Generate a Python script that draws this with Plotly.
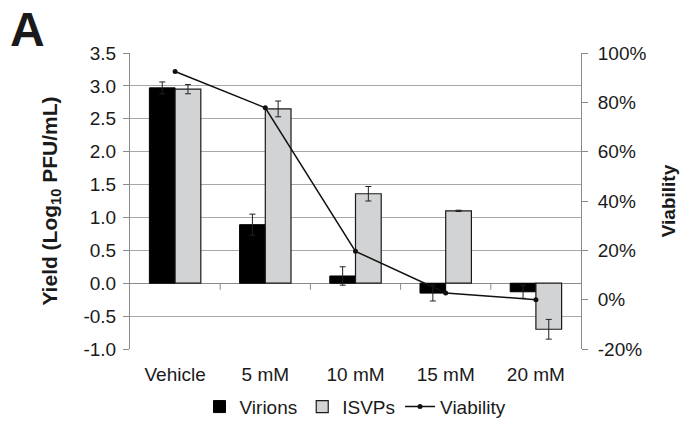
import plotly.graph_objects as go

# Treatment groups and measured yields (log10 PFU/mL) with standard deviations
categories = ["Vehicle", "5 mM", "10 mM", "15 mM", "20 mM"]
virions = [2.97, 0.89, 0.11, -0.15, -0.13]
virions_err = [0.09, 0.16, 0.14, 0.12, 0.10]
isvps = [2.95, 2.65, 1.36, 1.10, -0.70]
isvps_err = [0.07, 0.12, 0.11, 0.01, 0.15]
# Cell viability (%)
viability = [92.5, 77.8, 19.6, 2.7, 0.0]

# Axis tick values and their labels
yield_ticks = [-1.0, -0.5, 0.0, 0.5, 1.0, 1.5, 2.0, 2.5, 3.0, 3.5]
yield_labels = ["-1.0", "-0.5", "0.0", "0.5", "1.0", "1.5", "2.0", "2.5", "3.0", "3.5"]
viab_ticks = [-20, 0, 20, 40, 60, 80, 100]
viab_labels = ["-20%", "0%", "20%", "40%", "60%", "80%", "100%"]

FONT = "Liberation Sans, Arial, sans-serif"
TXT = "#1a1a1a"
GRID = "#a8a8a8"
AXIS = "#8a8a8a"

fig = go.Figure()

fig.add_trace(go.Bar(
    name="Virions", x=categories, y=virions,
    marker=dict(color="#000000", line=dict(color="#000000", width=1)),
    error_y=dict(type="data", array=virions_err, color="#222222", thickness=1, width=3),
))
fig.add_trace(go.Bar(
    name="ISVPs", x=categories, y=isvps,
    marker=dict(color="#d2d3d5", line=dict(color="#1a1a1a", width=1.2)),
    error_y=dict(type="data", array=isvps_err, color="#222222", thickness=1, width=3),
))
fig.add_trace(go.Scatter(
    name="Viability", x=categories, y=viability, yaxis="y2",
    mode="lines+markers",
    line=dict(color="#111111", width=1.5),
    marker=dict(color="#111111", size=5),
))

# Category divider ticks hanging from the zero line
for i in range(len(categories) - 1):
    fig.add_shape(type="line", xref="x", yref="y",
                  x0=i + 0.5, x1=i + 0.5, y0=0, y1=-0.1,
                  line=dict(color=AXIS, width=1))

fig.update_layout(
    width=680, height=426,
    margin=dict(l=130, r=99, t=53, b=77, autoexpand=False),
    paper_bgcolor="white", plot_bgcolor="white",
    font=dict(family=FONT, color=TXT, size=18),
    barmode="group", bargap=0.43, bargroupgap=0,
    showlegend=True,
    legend=dict(orientation="h", x=0.50, xanchor="center", y=-0.195, yanchor="middle",
                font=dict(size=19, family=FONT, color=TXT),
                itemwidth=30, tracegroupgap=0, traceorder="normal"),
    xaxis=dict(
        type="category", showline=False, showgrid=False, ticks="",
        tickfont=dict(size=19, family=FONT, color=TXT),
        ticklabelstandoff=12,
    ),
    yaxis=dict(
        range=[-1.0, 3.5], tickvals=yield_ticks, ticktext=yield_labels,
        showgrid=True, gridcolor=GRID, gridwidth=1,
        zeroline=True, zerolinecolor=AXIS, zerolinewidth=1,
        showline=True, linecolor=AXIS, linewidth=1,
        ticks="outside", ticklen=6, tickcolor=AXIS,
        tickfont=dict(size=19, family=FONT, color=TXT),
        ticklabelstandoff=3,
        title=dict(text="<b>Yield (Log<sub>10</sub> PFU/mL)</b>",
                   font=dict(size=21, family=FONT, color=TXT), standoff=20),
    ),
    yaxis2=dict(
        overlaying="y", side="right", range=[-20, 100],
        tickvals=viab_ticks, ticktext=viab_labels,
        showgrid=False, zeroline=False,
        showline=True, linecolor=AXIS, linewidth=1,
        ticks="outside", ticklen=6, tickcolor=AXIS,
        tickfont=dict(size=19, family=FONT, color=TXT),
        ticklabelstandoff=6,
        title=dict(text="<b>Viability</b>",
                   font=dict(size=19, family=FONT, color=TXT), standoff=16),
    ),
    annotations=[dict(text="<b>A</b>", xref="paper", yref="paper",
                      x=-0.27, y=1.175, xanchor="left", yanchor="top",
                      showarrow=False,
                      font=dict(size=48, family=FONT, color=TXT))],
)

fig.write_html("out.html")
